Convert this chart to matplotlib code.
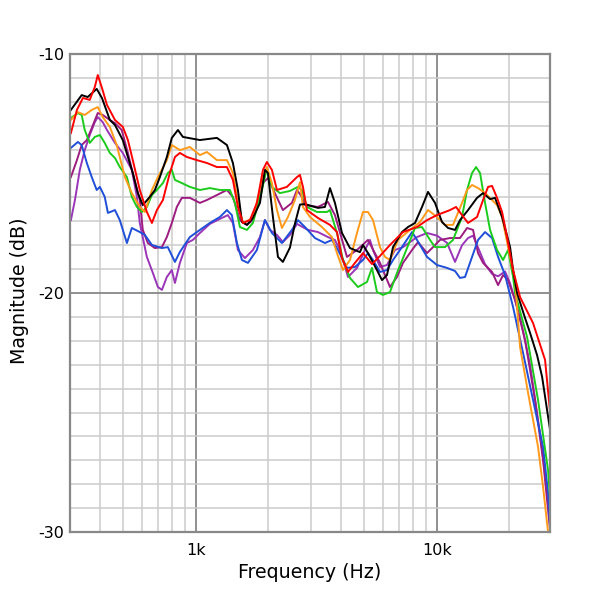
import matplotlib
matplotlib.use("Agg")
import matplotlib.pyplot as plt
from matplotlib.ticker import FixedLocator, NullFormatter

plt.rcParams['font.family'] = ['DejaVu Sans']
plt.rcParams['axes.unicode_minus'] = False

# frequency (Hz) and magnitude (dB), one pair of lists per curve
black_f = [304, 337, 357, 389, 409, 441, 463, 499, 524, 549, 576, 604, 646, 678, 711, 760, 797, 845, 886,
           1042, 1226, 1349, 1428, 1498, 1557, 1633, 1729, 1849, 1939, 1995, 2093, 2196, 2302, 2462, 2582,
           2709, 2841, 3217, 3440, 3608, 3784, 4047, 4368, 4805, 4946, 5187, 5652, 5930, 6220, 6588, 7178,
           7602, 8128, 8690, 9204, 9838, 10520, 11140, 11910, 12495, 13488, 14698, 15566, 16644, 17458,
           18666, 20148, 20735, 21542, 23253, 24383, 26073, 27349, 29520]
black_db = [-12.34, -11.72, -11.80, -11.46, -11.84, -12.76, -12.97, -13.60, -14.31, -14.98, -15.82, -16.32,
            -15.98, -15.69, -15.15, -14.31, -13.51, -13.18, -13.47, -13.60, -13.51, -13.81, -14.56, -15.69,
            -17.03, -17.15, -16.86, -16.23, -14.85, -14.98, -16.82, -18.49, -18.70, -18.10, -17.10, -16.30,
            -16.28, -16.44, -16.40, -15.61, -16.23, -17.49, -18.12, -18.29, -17.99, -18.33, -19.04, -19.46,
            -19.25, -18.08, -17.45, -17.24, -17.07, -16.40, -15.77, -16.23, -17.03, -17.28, -17.36, -16.95,
            -16.53, -16.02, -15.82, -16.07, -16.02, -16.82, -18.08, -19.04, -20.00, -21.05, -21.67, -22.60,
            -23.50, -25.73]

red_f = [304, 322, 341, 364, 382, 393, 409, 429, 463, 499, 524, 549, 587, 628, 659, 691, 732, 782, 821, 861,
         920, 1012, 1114, 1226, 1349, 1428, 1498, 1572, 1680, 1796, 1903, 1976, 2073, 2175, 2392, 2633, 2709,
         2788, 2896, 3217, 3608, 3858, 4047, 4286, 4581, 4946, 5390, 5818, 6401, 7248, 8285, 9117, 10028,
         11355, 12026, 12735, 13488, 14698, 15566, 16330, 16966, 17795, 18666, 19578, 20735, 22165, 25095,
         28143, 29520]
red_db = [-13.31, -12.34, -11.84, -11.92, -11.38, -10.88, -11.42, -12.13, -12.76, -13.05, -13.60, -14.44,
          -15.69, -16.61, -17.07, -16.53, -16.11, -14.98, -14.31, -14.14, -14.31, -14.44, -14.56, -14.73,
          -14.73, -15.27, -16.40, -17.07, -16.95, -16.23, -14.85, -14.52, -14.85, -15.69, -15.56, -15.15,
          -15.06, -15.56, -16.53, -16.86, -17.15, -17.45, -18.54, -19.12, -18.74, -18.33, -18.79, -18.45,
          -17.99, -17.45, -17.24, -16.95, -16.74, -16.53, -16.40, -16.74, -17.07, -16.82, -16.11, -15.56,
          -15.52, -16.02, -16.61, -17.66, -19.04, -20.17, -21.26, -22.80, -24.98]

orange_f = [304, 325, 347, 371, 393, 412, 441, 471, 509, 544, 587, 616, 659, 698, 760, 797, 861, 947, 1042,
            1114, 1226, 1349, 1428, 1498, 1572, 1729, 1903, 1976, 2073, 2175, 2281, 2415, 2582, 2709, 2788,
            2981, 3343, 3678, 3858, 4086, 4368, 4670, 4946, 5187, 5442, 5818, 6103, 6401, 6909, 7750, 8526,
            9204, 10028, 10825, 11684, 12735, 13358, 14014, 14840, 15866, 16966, 17795, 18666, 19767, 21135,
            22165, 23927, 26322, 27612, 28958]
orange_db = [-12.76, -12.43, -12.55, -12.34, -12.22, -12.64, -13.05, -13.81, -15.15, -15.82, -16.40, -16.61,
             -15.69, -15.15, -14.44, -13.81, -14.02, -13.89, -14.23, -14.10, -14.44, -14.44, -14.98, -16.23,
             -17.07, -16.86, -15.15, -14.73, -15.40, -16.53, -17.28, -16.82, -16.11, -15.36, -16.40, -16.82,
             -17.24, -17.66, -18.33, -19.04, -18.62, -17.49, -16.61, -16.61, -16.95, -18.08, -18.49, -18.62,
             -17.78, -17.36, -17.03, -16.53, -16.82, -17.15, -17.15, -16.23, -15.69, -15.48, -15.61, -15.82,
             -16.11, -16.32, -16.82, -18.08, -19.46, -22.26, -24.18, -26.44, -28.12, -30.00]

green_f = [304, 325, 337, 347, 364, 382, 401, 420, 441, 463, 485, 519, 544, 571, 599, 628, 659, 691, 732, 767,
           797, 821, 877, 947, 1042, 1146, 1261, 1388, 1456, 1527, 1633, 1729, 1884, 1976, 2073, 2238, 2462,
           2658, 2761, 2896, 3187, 3506, 3608, 3858, 4086, 4368, 4714, 5138, 5390, 5652, 5987, 6401, 6844,
           7388, 8128, 8690, 9380, 9838, 10825, 11684, 12735, 13358, 14014, 14560, 15127, 15866, 16644,
           17795, 18843, 19767, 20735, 21135, 23701, 26322, 28958, 29520]
green_db = [-12.68, -12.47, -12.55, -13.18, -13.72, -13.47, -13.39, -13.72, -14.14, -14.35, -14.73, -15.15,
            -15.98, -16.40, -16.61, -16.40, -15.90, -15.69, -15.40, -14.98, -14.85, -15.27, -15.40, -15.56,
            -15.69, -15.61, -15.69, -15.69, -16.23, -17.24, -17.36, -17.07, -15.69, -14.77, -15.56, -15.82,
            -15.73, -15.56, -15.69, -16.40, -16.61, -16.61, -16.53, -17.49, -18.62, -19.37, -19.75, -19.54,
            -18.95, -19.96, -20.08, -19.96, -19.16, -18.33, -17.28, -17.24, -17.78, -18.08, -18.08, -17.78,
            -16.82, -15.69, -14.98, -14.73, -14.98, -16.23, -17.36, -18.20, -18.62, -18.20, -19.33, -20.00,
            -21.84, -24.48, -27.41, -28.60]

blue_f = [304, 325, 337, 354, 371, 389, 401, 420, 433, 463, 485, 519, 544, 587, 616, 659, 725, 767, 821, 861,
          947, 1042, 1146, 1261, 1349, 1414, 1484, 1557, 1648, 1796, 1939, 2073, 2281, 2509, 2658, 2841, 3126,
          3440, 3678, 3895, 4245, 4581, 4946, 5187, 5442, 5818, 6220, 6588, 7043, 7900, 8285, 9117, 10028,
          11034, 11910, 12495, 13105, 14014, 14840, 15866, 16966, 17968, 19207, 20735, 22813, 25095, 27612,
          28958, 29520]
blue_db = [-13.93, -13.68, -13.81, -14.56, -15.15, -15.69, -15.56, -15.98, -16.65, -16.53, -16.95, -17.91,
           -17.28, -17.45, -17.57, -17.99, -18.12, -18.08, -18.70, -18.28, -17.66, -17.36, -17.07, -16.82,
           -16.53, -16.74, -17.91, -18.62, -18.74, -18.20, -16.95, -17.49, -17.91, -17.36, -16.95, -17.24,
           -17.70, -17.91, -17.78, -18.20, -18.95, -18.91, -18.62, -18.33, -18.62, -19.12, -19.04, -18.62,
           -18.20, -17.45, -17.78, -18.49, -18.83, -18.95, -19.08, -19.37, -19.33, -18.49, -17.78, -17.45,
           -17.70, -18.49, -19.25, -20.59, -22.51, -24.48, -26.44, -28.37, -29.70]

magenta_f = [304, 322, 337, 354, 371, 393, 412, 441, 463, 494, 524, 549, 587, 604, 634, 678, 725, 760, 797,
             836, 877, 947, 1042, 1114, 1226, 1349, 1428, 1527, 1633, 1729, 1903, 1995, 2133, 2302, 2509, 2633,
             2761, 2841, 3217, 3540, 3784, 4245, 4670, 5187, 5818, 6401, 6844, 7248, 7900, 8364, 9117, 9652,
             10320, 11355, 12495, 13358, 14147, 14840, 15566, 16966, 17968, 18843, 19767, 21135, 23253, 25580,
             27612, 29520]
magenta_db = [-15.15, -14.44, -13.81, -13.60, -13.10, -12.47, -12.55, -12.76, -12.89, -13.18, -14.14, -14.98,
              -16.11, -17.36, -17.91, -18.12, -18.08, -17.66, -17.07, -16.40, -16.02, -16.02, -16.23, -16.11,
              -15.90, -15.69, -15.98, -16.95, -17.15, -16.95, -15.40, -15.19, -15.82, -16.53, -16.23, -15.69,
              -15.98, -16.32, -16.40, -16.19, -16.74, -18.49, -18.20, -17.78, -18.74, -19.75, -19.33, -18.74,
              -18.20, -17.87, -18.33, -18.08, -17.78, -17.70, -17.70, -17.28, -17.36, -18.33, -18.74, -19.12,
              -19.67, -19.25, -19.46, -20.29, -21.97, -24.48, -26.99, -29.92]

violet_f = [304, 316, 331, 347, 364, 382, 393, 412, 429, 463, 499, 544, 571, 587, 628, 665, 698, 725, 760, 797,
            821, 861, 920, 974, 1042, 1146, 1261, 1361, 1428, 1498, 1602, 1729, 1849, 1939, 2034, 2175, 2302,
            2462, 2633, 2924, 3217, 3540, 3784, 3970, 4286, 4670, 5041, 5287, 5442, 5818, 6220, 6714, 7248,
            8285, 9117, 10028, 11034, 11910, 12735, 13488, 14147, 14840, 15866, 16966, 17968, 19207, 20148,
            22165, 24383, 26830, 29520]
violet_db = [-16.95, -16.11, -14.85, -14.02, -13.39, -12.85, -12.64, -12.85, -13.18, -13.72, -14.14, -14.85,
             -15.98, -17.07, -18.49, -19.16, -19.75, -19.87, -19.33, -19.04, -19.58, -18.74, -17.91, -17.78,
             -17.49, -17.11, -16.90, -16.74, -17.07, -18.20, -18.54, -18.20, -17.66, -16.95, -17.36, -17.57,
             -17.87, -17.57, -17.11, -17.36, -17.45, -17.66, -17.78, -18.20, -19.33, -18.95, -18.20, -17.78,
             -18.20, -18.91, -18.83, -18.20, -18.08, -17.66, -17.49, -17.60, -17.90, -18.70, -18.00, -17.70,
             -17.60, -18.10, -18.80, -19.20, -19.30, -19.10, -19.60, -21.00, -23.00, -25.90, -29.30]

curves = [
    (violet_f, violet_db, '#9a35b8'),
    (magenta_f, magenta_db, '#9c1c80'),
    (blue_f, blue_db, '#1f4fd8'),
    (green_f, green_db, '#1ccc1c'),
    (orange_f, orange_db, '#ff9a1a'),
    (black_f, black_db, '#000000'),
    (red_f, red_db, '#ff0000'),
]

fig = plt.figure(figsize=(6, 5.94), dpi=100)
ax = fig.add_axes([69.5 / 600, 1 - 532 / 594, (550 - 69.5) / 600, (532 - 54) / 594])

for f, db, c in curves:
    ax.plot(f, db, color=c, lw=1.4, solid_joinstyle='round')

ax.set_xscale('log')
ax.set_xlim(300, 29500)
ax.set_ylim(-30, -10)

ax.xaxis.set_major_locator(FixedLocator([1000, 10000]))
ax.set_xticklabels(['1k', '10k'])
minor_x = [m * d for d in (100, 1000, 10000) for m in range(2, 10) if 300 <= m * d <= 29500]
ax.xaxis.set_minor_locator(FixedLocator(minor_x))
ax.xaxis.set_minor_formatter(NullFormatter())
ax.yaxis.set_major_locator(FixedLocator([-30, -20, -10]))
ax.yaxis.set_minor_locator(FixedLocator(list(range(-29, -10))))

ax.grid(which='minor', color='#cccccc', lw=1.1)
ax.grid(which='major', color='#888888', lw=1.3)
ax.set_axisbelow(True)
for s in ax.spines.values():
    s.set_color('#888888')
    s.set_linewidth(1.6)

ax.tick_params(which='both', length=0)
ax.tick_params(axis='y', pad=4, labelsize=11.5)
ax.tick_params(axis='x', pad=8, labelsize=11.5)

fig.text(310 / 600, 1 - 572 / 594, 'Frequency (Hz)', ha='center', va='center', fontsize=13.7)
fig.text(20 / 600, 1 - 291 / 594, 'Magnitude (dB)', ha='center', va='center', rotation=90, fontsize=13.7)

fig.savefig('out.png', dpi=100)
